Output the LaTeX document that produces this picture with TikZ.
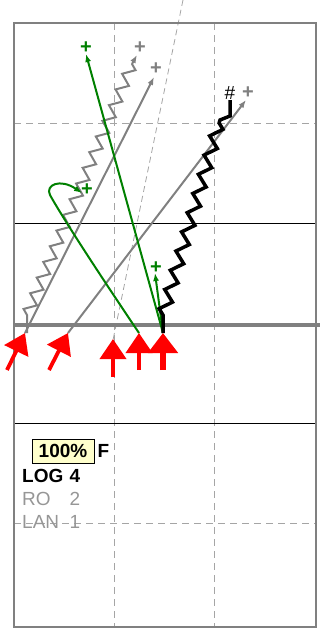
\documentclass[tikz,border=0pt]{standalone}
\usepackage{fontspec}
\setmainfont{Liberation Sans}
\usetikzlibrary{arrows.meta,decorations.pathmorphing}
\definecolor{trackgreen}{RGB}{0,128,0}
\definecolor{raygray}{RGB}{128,128,128}
\definecolor{gridgray}{RGB}{165,165,165}
\definecolor{labelgray}{RGB}{150,150,150}
\definecolor{boxyellow}{RGB}{255,255,204}
\tikzset{
  framebox/.style={draw=raygray, line width=1.5pt},
  gridline/.style={draw=black, line width=0.9pt},
  dashline/.style={draw=gridgray, line width=1pt, dash pattern=on 7pt off 5pt},
  slantline/.style={draw=gridgray, line width=0.8pt, dash pattern=on 6pt off 4pt},
  groundline/.style={draw=raygray, line width=4.5pt},
  hitarrow/.style={draw=red, line width=3.8pt, -{Triangle[length=20pt,width=26pt]}},
  bighit/.style={draw=red, line width=6pt, -{Triangle[length=20pt,width=29pt]}},
  grayray/.style={draw=raygray, line width=2pt, -{Latex[length=8pt,width=6pt]}},
  greenray/.style={draw=trackgreen, line width=2pt, -{Latex[length=8pt,width=6pt]}},
  zigpart/.style={decoration={zigzag, segment length=17pt, amplitude=5.5pt}},
  endmark/.style={font=\fontsize{20}{20}\selectfont\bfseries, inner sep=0pt},
  scorebox/.style={draw, fill=boxyellow, line width=0.8pt, minimum width=62pt, minimum height=24pt, inner sep=1pt, font=\fontsize{19}{19}\selectfont\bfseries},
  tag/.style={inner sep=0pt, font=\fontsize{19}{19}\selectfont}
}
\begin{document}
\begin{tikzpicture}[x=1pt, y=-1pt]
  \useasboundingbox (0,0) rectangle (320,629);
  % grid
  \coordinate (nw) at (14,23);
  \coordinate (se) at (316,627);
  \draw[dashline] (114,23) -- (114,627);
  \draw[dashline] (214,23) -- (214,627);
  \draw[dashline] (14,123) -- (316,123);
  \draw[dashline] (14,523) -- (316,523);
  \draw[gridline] (14,223) -- (316,223);
  \draw[gridline] (14,423) -- (316,423);
  \draw[slantline] (183,0) -- (113,340);
  \draw[framebox] (nw) rectangle (se);
  \draw[groundline] (14,325) -- (320,325);

  % impact points and ends
  \coordinate (hit1) at (25,333);  \coordinate (tail1) at (7,370);
  \coordinate (hit2) at (68,333);  \coordinate (tail2) at (49,370);
  \coordinate (hit3) at (113,339); \coordinate (tail3) at (113,377);
  \coordinate (hit4) at (139,333); \coordinate (tail4) at (139,370);
  \coordinate (hit5) at (163,333); \coordinate (tail5) at (163,370);
  \coordinate (rayA) at (154,77);
  \coordinate (rayB) at (246,100);
  \coordinate (zigA) at (137,55);
  \coordinate (greenA) at (86,54);
  \coordinate (greenB) at (82,193);
  \coordinate (greenC) at (155,273);
  \coordinate (topblk) at (230,100);

  % gray rays
  \draw[grayray] (hit1) -- (rayA);
  \draw[grayray] (hit2) -- (rayB);
  \draw[grayray] (27,333) -- (27,315) decorate[zigpart] {-- (133,62)} -- (zigA);
  % green rays
  \draw[greenray] (hit5) -- (greenA);
  \draw[greenray] (hit4) .. controls (110,290) and (65,222) .. (50,195)
    .. controls (45,185) and (60,178) .. (greenB);
  \draw[greenray] (hit5) -- (greenC);
  % black track
  \draw[line width=3.5pt] (hit5) -- (163,315)
    decorate[decoration={zigzag, segment length=20pt, amplitude=5.5pt}] {-- (220,120)}
    -- (230,116) -- (topblk);

  % end marks
  \node[endmark, text=raygray] (mA) at (156,69) {+};
  \node[endmark, text=raygray] (mB) at (248,93) {+};
  \node[endmark, text=raygray] (mZ) at (140,48) {+};
  \node[endmark, text=trackgreen] (gA) at (86,48) {+};
  \node[endmark, text=trackgreen] (gB) at (87,190) {+};
  \node[endmark, text=trackgreen] (gC) at (156,268) {+};
  \node[endmark, font=\fontsize{19}{19}\selectfont] (mblk) at (230,93) {\#};

  % hits
  \draw[hitarrow] (tail1) -- (hit1);
  \draw[hitarrow] (tail2) -- (hit2);
  \draw[hitarrow] (tail3) -- (hit3);
  \draw[hitarrow] (tail4) -- (hit4);
  \draw[bighit] (tail5) -- (hit5);

  % legend
  \node[scorebox] (score) at (63,451) {100\%};
  \node[tag, font=\fontsize{19}{19}\selectfont\bfseries, right=3pt] (flag) at (score.east) {F};
  \node[tag, anchor=west, font=\fontsize{19}{19}\selectfont\bfseries] (log) at (22,476) {LOG};
  \node[tag, font=\fontsize{19}{19}\selectfont\bfseries] (lognum) at (75,476) {4};
  \node[tag, anchor=west, text=labelgray] (ro) at (22,499) {RO};
  \node[tag, text=labelgray] (ronum) at (75,499) {2};
  \node[tag, anchor=west, text=labelgray] (lan) at (22,522) {LAN};
  \node[tag, text=labelgray] (lannum) at (75,522) {1};
\end{tikzpicture}
\end{document}
